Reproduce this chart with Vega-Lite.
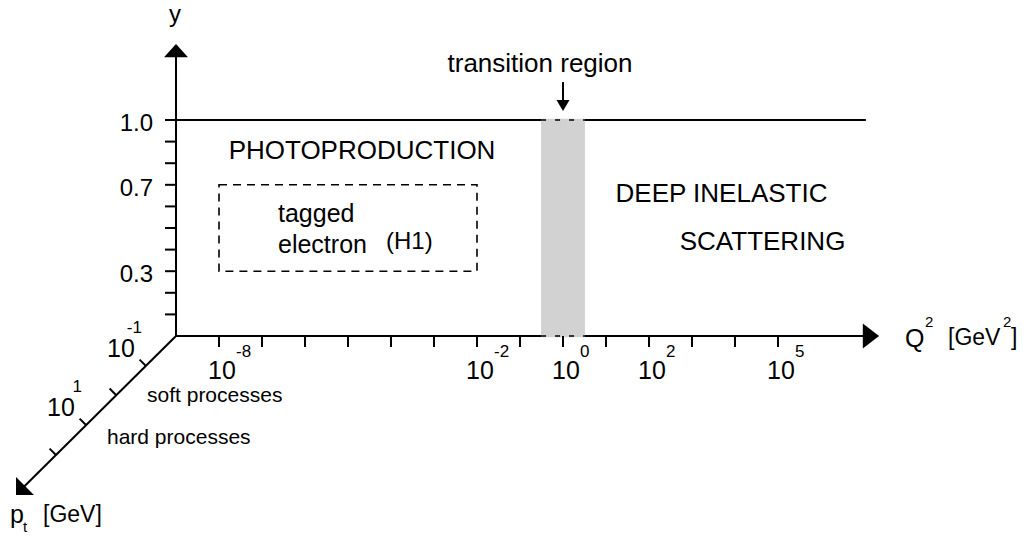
{
  "$schema": "https://vega.github.io/schema/vega-lite/v6.json",
  "width": 1025,
  "height": 538,
  "autosize": {"type": "none"},
  "padding": 0,
  "background": "white",
  "config": {
    "view": {"stroke": null},
    "text": {"font": "Liberation Sans", "color": "black"}
  },
  "encoding": {
    "x": {"field": "x", "type": "quantitative", "scale": {"domain": [-5.093, 18.744], "nice": false, "zero": false}, "axis": null},
    "y": {"field": "y", "type": "quantitative", "scale": {"domain": [-0.9352, 1.5556], "nice": false, "zero": false}, "axis": null}
  },
  "layer": [
    {
      "description": "axis lines, the y = 1 boundary and the shaft of the transition arrow",
      "data": {"values": [
        {"part": "y axis", "x": -1, "y": 0, "x2": -1, "y2": 1.3},
        {"part": "Q2 axis", "x": -1, "y": 0, "x2": 15.06, "y2": 0},
        {"part": "pt axis", "x": -1, "y": 0, "x2": -4.52, "y2": -0.695},
        {"part": "y = 1", "x": -1, "y": 1, "x2": 15.02, "y2": 1},
        {"part": "transition arrow", "x": 8, "y": 1.171, "x2": 8, "y2": 1.065}
      ]},
      "mark": {"type": "rule", "color": "black", "strokeWidth": 2, "strokeCap": "square"},
      "encoding": {"x2": {"field": "x2"}, "y2": {"field": "y2"}}
    },
    {
      "description": "transition region band",
      "data": {"values": [{"x": 7.49, "x2": 8.51, "y": -0.006, "y2": 1.006}]},
      "mark": {"type": "rect", "color": "#d2d2d2"},
      "encoding": {"x2": {"field": "x2"}, "y2": {"field": "y2"}}
    },
    {
      "description": "boundary lines showing through the band",
      "data": {"values": [{"x": 7.49, "x2": 8.51, "y": 0}, {"x": 7.49, "x2": 8.51, "y": 1}]},
      "mark": {"type": "rule", "color": "#333333", "strokeWidth": 2, "strokeDash": [5, 9]},
      "encoding": {"x2": {"field": "x2"}}
    },
    {
      "description": "tagged electron acceptance",
      "data": {"values": [{"x": 0, "x2": 6, "y": 0.3, "y2": 0.7}]},
      "mark": {"type": "rect", "filled": false, "fill": null, "stroke": "black", "strokeWidth": 1.6, "strokeDash": [8, 6]},
      "encoding": {"x2": {"field": "x2"}, "y2": {"field": "y2"}}
    },
    {
      "description": "Q2 axis ticks",
      "data": {"values": [
        {"x": 0, "y": 0}, {"x": 1, "y": 0}, {"x": 2, "y": 0}, {"x": 3, "y": 0}, {"x": 4, "y": 0},
        {"x": 5, "y": 0}, {"x": 6, "y": 0}, {"x": 7, "y": 0}, {"x": 8, "y": 0}, {"x": 9, "y": 0},
        {"x": 10, "y": 0}, {"x": 11, "y": 0}, {"x": 12, "y": 0}, {"x": 13, "y": 0}
      ]},
      "mark": {"type": "point", "shape": "M0,0L0,1", "size": 484, "filled": false, "color": "black", "strokeWidth": 2, "opacity": 1}
    },
    {
      "description": "y axis ticks",
      "data": {"values": [
        {"x": -1, "y": 0.1}, {"x": -1, "y": 0.2}, {"x": -1, "y": 0.3}, {"x": -1, "y": 0.4}, {"x": -1, "y": 0.5},
        {"x": -1, "y": 0.6}, {"x": -1, "y": 0.7}, {"x": -1, "y": 0.8}, {"x": -1, "y": 0.9}, {"x": -1, "y": 1.0}
      ]},
      "mark": {"type": "point", "shape": "M0,0L-1,0", "size": 484, "filled": false, "color": "black", "strokeWidth": 2, "opacity": 1}
    },
    {
      "description": "pt axis ticks",
      "data": {"values": [{"x": -1.698, "y": -0.139}, {"x": -2.395, "y": -0.273}, {"x": -3.093, "y": -0.412}, {"x": -3.791, "y": -0.551}]},
      "mark": {"type": "point", "shape": "M0,0L-1,-1", "size": 164, "filled": false, "color": "black", "strokeWidth": 2, "opacity": 1}
    },
    {
      "description": "y axis arrowhead",
      "data": {"values": [{"x": -1, "y": 1.352}]},
      "mark": {"type": "point", "shape": "M0,0L-1,1.1L1,1.1Z", "size": 576, "angle": 0, "filled": true, "color": "black", "opacity": 1, "strokeWidth": 0}
    },
    {
      "description": "Q2 axis arrowhead",
      "data": {"values": [{"x": 15.35, "y": 0}]},
      "mark": {"type": "point", "shape": "M0,0L-1,1.3L1,1.3Z", "size": 625, "angle": 90, "filled": true, "color": "black", "opacity": 1, "strokeWidth": 0}
    },
    {
      "description": "pt axis arrowhead",
      "data": {"values": [{"x": -4.721, "y": -0.736}]},
      "mark": {"type": "point", "shape": "M0,0L-1,1L1,1Z", "size": 645, "angle": 225, "filled": true, "color": "black", "opacity": 1, "strokeWidth": 0}
    },
    {
      "description": "transition arrowhead",
      "data": {"values": [{"x": 8, "y": 1.0417}]},
      "mark": {"type": "point", "shape": "M0,0L-1,1.7L1,1.7Z", "size": 169, "angle": 180, "filled": true, "color": "black", "opacity": 1, "strokeWidth": 0}
    },
    {
      "description": "y axis labels",
      "data": {"values": [{"x": -1, "y": 0.3, "label": "0.3"}, {"x": -1, "y": 0.7, "label": "0.7"}, {"x": -1, "y": 1.0, "label": "1.0"}]},
      "mark": {"type": "text", "align": "right", "baseline": "middle", "fontSize": 24, "dx": -23, "dy": 4},
      "encoding": {"text": {"field": "label"}}
    },
    {
      "description": "Q2 axis labels, mantissa",
      "data": {"values": [{"x": 0, "y": 0, "exp": "-8"}, {"x": 6, "y": 0, "exp": "-2"}, {"x": 8, "y": 0, "exp": "0"}, {"x": 10, "y": 0, "exp": "2"}, {"x": 13, "y": 0, "exp": "5"}]},
      "mark": {"type": "text", "text": "10", "align": "center", "baseline": "alphabetic", "fontSize": 25, "dx": 3, "dy": 43}
    },
    {
      "description": "Q2 axis labels, exponent",
      "data": {"values": [{"x": 0, "y": 0, "exp": "-8"}, {"x": 6, "y": 0, "exp": "-2"}, {"x": 8, "y": 0, "exp": "0"}, {"x": 10, "y": 0, "exp": "2"}, {"x": 13, "y": 0, "exp": "5"}]},
      "mark": {"type": "text", "align": "left", "baseline": "alphabetic", "fontSize": 17, "dx": 17, "dy": 21},
      "encoding": {"text": {"field": "exp"}}
    },
    {
      "description": "pt axis labels, mantissa",
      "data": {"values": [{"x": -1.698, "y": -0.139, "exp": "-1"}, {"x": -3.093, "y": -0.412, "exp": "1"}]},
      "mark": {"type": "text", "text": "10", "align": "center", "baseline": "alphabetic", "fontSize": 25, "dx": -25, "dy": -9}
    },
    {
      "description": "pt axis labels, exponent",
      "data": {"values": [{"x": -1.698, "y": -0.139, "exp": "-1"}, {"x": -3.093, "y": -0.412, "exp": "1"}]},
      "mark": {"type": "text", "align": "right", "baseline": "alphabetic", "fontSize": 17, "dx": -4, "dy": -33},
      "encoding": {"text": {"field": "exp"}}
    },
    {
      "description": "y axis title",
      "data": {"values": [{"x": -1.023, "y": 1.4537, "label": "y"}]},
      "mark": {"type": "text", "align": "center", "baseline": "alphabetic", "fontSize": 24},
      "encoding": {"text": {"field": "label"}}
    },
    {
      "description": "region names",
      "data": {"values": [
        {"x": 7.465, "y": 1.2222, "label": "transition region"},
        {"x": 3.326, "y": 0.8194, "label": "PHOTOPRODUCTION"},
        {"x": 11.686, "y": 0.6204, "label": "DEEP INELASTIC"},
        {"x": 12.64, "y": 0.3981, "label": "SCATTERING"}
      ]},
      "mark": {"type": "text", "align": "center", "baseline": "alphabetic", "fontSize": 26},
      "encoding": {"text": {"field": "label"}}
    },
    {
      "description": "left aligned large text",
      "data": {"values": [
        {"x": 1.372, "y": 0.5278, "label": "tagged"},
        {"x": 1.372, "y": 0.3843, "label": "electron"},
        {"x": 15.953, "y": -0.0509, "label": "Q"},
        {"x": -4.86, "y": -0.866, "label": "p"}
      ]},
      "mark": {"type": "text", "align": "left", "baseline": "alphabetic", "fontSize": 25},
      "encoding": {"text": {"field": "label"}}
    },
    {
      "description": "tagging detector name",
      "data": {"values": [{"x": 3.884, "y": 0.4028, "label": "(H1)"}]},
      "mark": {"type": "text", "align": "left", "baseline": "alphabetic", "fontSize": 24},
      "encoding": {"text": {"field": "label"}}
    },
    {
      "description": "axis units",
      "data": {"values": [
        {"x": 16.953, "y": -0.0417, "label": "[GeV"},
        {"x": 18.419, "y": -0.0417, "label": "]"},
        {"x": -4.093, "y": -0.861, "label": "[GeV]"}
      ]},
      "mark": {"type": "text", "align": "left", "baseline": "alphabetic", "fontSize": 23},
      "encoding": {"text": {"field": "label"}}
    },
    {
      "description": "process labels",
      "data": {"values": [
        {"x": -1.674, "y": -0.3056, "label": "soft processes"},
        {"x": -2.605, "y": -0.5, "label": "hard processes"}
      ]},
      "mark": {"type": "text", "align": "left", "baseline": "alphabetic", "fontSize": 21},
      "encoding": {"text": {"field": "label"}}
    },
    {
      "description": "superscripts and subscripts of the axis units",
      "data": {"values": [
        {"x": 16.419, "y": 0.0417, "label": "2"},
        {"x": 18.233, "y": 0.0417, "label": "2"},
        {"x": -4.558, "y": -0.907, "label": "t"}
      ]},
      "mark": {"type": "text", "align": "left", "baseline": "alphabetic", "fontSize": 15},
      "encoding": {"text": {"field": "label"}}
    }
  ]
}
